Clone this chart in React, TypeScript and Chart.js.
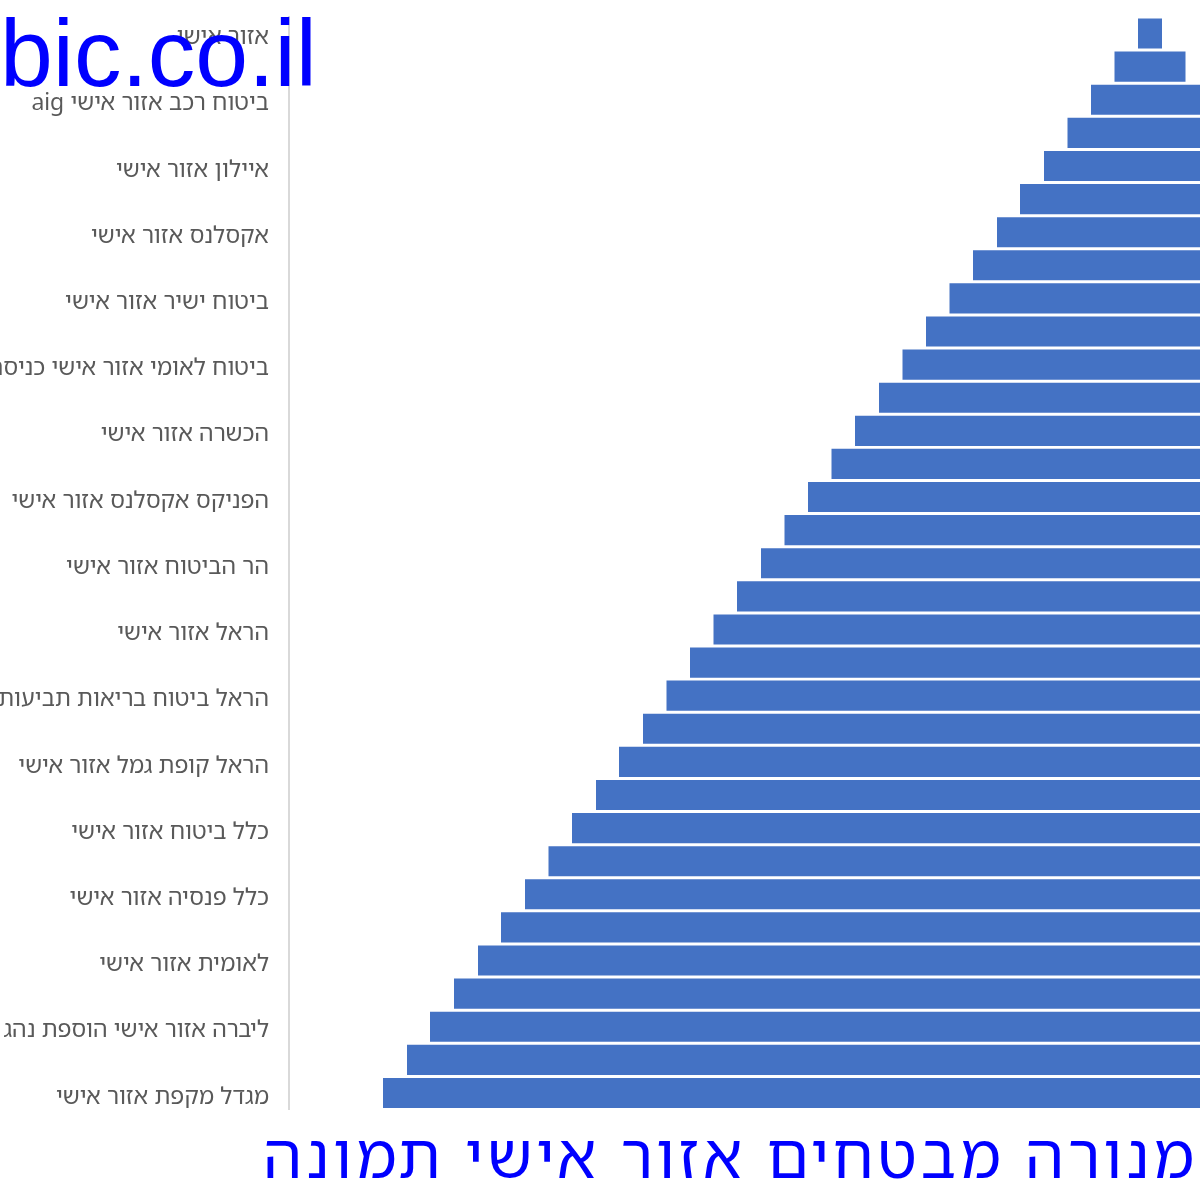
import React, { useEffect, useRef } from "react";
import { Chart, registerables } from "chart.js";

Chart.register(...registerables);

const categories: string[] = [
  "אזור אישי",
  "אלטשולר שחם אזור אישי",
  "ביטוח רכב אזור אישי aig",
  "אנליסט אזור אישי",
  "איילון אזור אישי",
  "אקסלנס גמל אזור אישי",
  "אקסלנס אזור אישי",
  "ביטוח חקלאי אזור אישי",
  "ביטוח ישיר אזור אישי",
  "ביטוח ישיר כניסה",
  "ביטוח לאומי אזור אישי כניסה",
  "דקל אזור אישי",
  "הכשרה אזור אישי",
  "הפניקס אזור אישי",
  "הפניקס אקסלנס אזור אישי",
  "הר הביטוח כניסה",
  "הר הביטוח אזור אישי",
  "הראל ביטוח אזור אישי",
  "הראל אזור אישי",
  "הראל ביטוח נסיעות",
  "הראל ביטוח בריאות תביעות",
  "הראל פנסיה אזור אישי",
  "הראל קופת גמל אזור אישי",
  "כלל ביטוח בריאות",
  "כלל ביטוח אזור אישי",
  "כלל גמל אזור אישי",
  "כלל פנסיה אזור אישי",
  "כלל תביעות אזור אישי",
  "לאומית אזור אישי",
  "ליברה אזור אישי",
  "ליברה אזור אישי הוספת נהג",
  "מגדל אזור אישי",
  "מגדל מקפת אזור אישי",
];

const values: number[] = [
  24, 71, 118, 165, 212, 260, 306, 354, 401, 448, 495, 542, 590, 637, 684, 731,
  778, 826, 873, 920, 967, 1014, 1062, 1108, 1156, 1203, 1250, 1298, 1344, 1392,
  1440, 1486, 1534,
];

const titleText = "מנורה מבטחים אזור אישי תמונה";
const watermarkText = "bic.co.il";
const hebrewFont = "'Noto Sans Hebrew', 'Open Sans', sans-serif";

const overlayPlugin = {
  id: "overlay",
  afterDraw(chart: any) {
    const ctx = chart.ctx;
    // title (bottom, right aligned)
    ctx.save();
    ctx.direction = "rtl";
    ctx.font = `62px ${hebrewFont}`;
    (ctx as any).letterSpacing = "3.8px";
    ctx.fillStyle = "#0000FF";
    ctx.textAlign = "right";
    ctx.textBaseline = "alphabetic";
    ctx.fillText(titleText, chart.width - 2, chart.height - 22);
    ctx.restore();
    // watermark
    ctx.save();
    ctx.direction = "ltr";
    ctx.font = "95px 'Liberation Sans', Arial, sans-serif";
    ctx.fillStyle = "#0000FF";
    ctx.textAlign = "left";
    ctx.textBaseline = "alphabetic";
    ctx.fillText(watermarkText, 0, 86);
    ctx.restore();
  },
};

export default function App() {
  const canvasRef = useRef<HTMLCanvasElement | null>(null);

  useEffect(() => {
    if (!canvasRef.current) return;
    const chart = new Chart(canvasRef.current, {
      type: "bar",
      data: {
        labels: categories,
        datasets: [
          {
            data: values.map((v) => [-v / 2, v / 2]) as any,
            backgroundColor: "#4472C4",
            borderWidth: 0,
            barPercentage: 0.91,
            categoryPercentage: 1,
          },
        ],
      },
      options: {
        indexAxis: "y",
        animation: false,
        responsive: false,
        maintainAspectRatio: false,
        layout: { padding: { top: 17, right: 0, bottom: 90.5, left: 0 } },
        scales: {
          x: {
            display: false,
            min: -861,
            max: 50,
          },
          y: {
            grid: { display: false, drawTicks: false },
            border: { display: true, color: "#D9D9D9", width: 2 },
            afterFit: (scale: any) => {
              scale.width = 289;
              scale.paddingTop = 0;
              scale.paddingBottom = 0;
            },
            ticks: {
              autoSkip: false,
              padding: 20,
              labelOffset: 4,
              color: "#595959",
              font: { family: hebrewFont, size: 23.2 },
              callback: function (this: any, _v: any, i: number) {
                return i % 2 === 0 ? categories[i] : "";
              },
            },
          },
        },
        plugins: {
          legend: { display: false },
          tooltip: { enabled: false },
          title: { display: false, text: titleText },
        },
      },
      plugins: [overlayPlugin],
    });
    return () => chart.destroy();
  }, []);

  return (
    <div style={{ position: "absolute", left: 0, top: 0, width: 1200, height: 1200, background: "#fff" }}>
      <canvas ref={canvasRef} width={1200} height={1200} style={{ display: "block", direction: "rtl" }} />
    </div>
  );
}
